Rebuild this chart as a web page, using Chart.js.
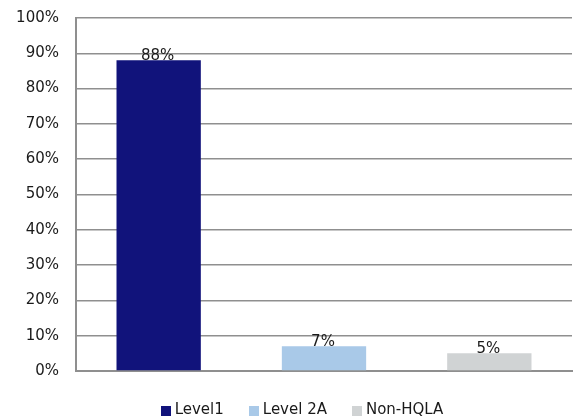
<!DOCTYPE html>
<html>
<head>
<meta charset="utf-8">
<script src="https://cdn.jsdelivr.net/npm/chart.js@4/dist/chart.umd.min.js"></script>
<style>
  html, body { margin: 0; padding: 0; background: #ffffff; font-family: "DejaVu Sans"; }
  #wrap { width: 577px; height: 419px; position: relative; }
</style>
</head>
<body>
<div id="wrap"><canvas id="chart" width="577" height="419"></canvas></div>
<script>
// HQLA composition by asset level
const categories = ['Level1', 'Level 2A', 'Non-HQLA'];
const shares = [88, 7, 5];
const barColors = ['#11137B', '#A9C9E8', '#D0D3D4'];
const yTickValues = [0, 10, 20, 30, 40, 50, 60, 70, 80, 90, 100];

const FONT = '"DejaVu Sans"';
const GRID = '#8f8f8f';
const TEXT = '#1a1a1a';
const FONT_SIZE = 15;

// value labels above each bar
const valueLabels = {
  id: 'valueLabels',
  afterDatasetsDraw(chart) {
    const ctx = chart.ctx;
    const meta = chart.getDatasetMeta(0);
    ctx.save();
    ctx.font = FONT_SIZE + 'px ' + FONT;
    ctx.fillStyle = TEXT;
    ctx.textAlign = 'center';
    ctx.textBaseline = 'alphabetic';
    meta.data.forEach((bar, i) => {
      ctx.fillText(shares[i] + '%', bar.x - 1, bar.y - 0.5);
    });
    ctx.restore();
  }
};

// compact legend row under the plot: square swatch + category name
const bottomLegend = {
  id: 'bottomLegend',
  afterDraw(chart) {
    const ctx = chart.ctx;
    const box = 10, gap = 4, itemGap = 25, cy = 410, centerX = 302;
    ctx.save();
    ctx.font = FONT_SIZE + 'px ' + FONT;
    ctx.textBaseline = 'middle';
    ctx.textAlign = 'left';
    const widths = categories.map(c => box + gap + ctx.measureText(c).width);
    const total = widths.reduce((a, b) => a + b, 0) + itemGap * (categories.length - 1);
    let x = centerX - total / 2;
    categories.forEach((c, i) => {
      ctx.fillStyle = barColors[i];
      ctx.fillRect(Math.round(x), cy - box / 2 + 1, box, box);
      ctx.fillStyle = TEXT;
      ctx.fillText(c, x + box + gap, cy);
      x += widths[i] + itemGap;
    });
    ctx.restore();
  }
};

function draw() {
  Chart.defaults.font.family = FONT;
  new Chart(document.getElementById('chart'), {
    type: 'bar',
    data: {
      labels: categories,
      datasets: [{
        data: shares,
        backgroundColor: barColors,
        borderWidth: 0,
        barPercentage: 0.51,
        categoryPercentage: 1.0
      }]
    },
    options: {
      responsive: false,
      animation: false,
      devicePixelRatio: 1,
      layout: { padding: { top: 18, right: 5, left: 0, bottom: 48 } },
      scales: {
        x: {
          grid: { display: false, drawTicks: false },
          border: { display: true, color: GRID, width: 2 },
          ticks: { display: false },
          afterFit(scale) { scale.height = 0; }
        },
        y: {
          min: 0,
          max: 100,
          afterBuildTicks(scale) { scale.ticks = yTickValues.map(v => ({ value: v })); },
          afterFit(scale) { scale.width = 76; },
          grid: { color: GRID, lineWidth: 1.5, drawTicks: true, tickLength: 17, tickColor: 'rgba(0,0,0,0)' },
          border: { display: true, color: GRID, width: 2 },
          ticks: {
            padding: 0,
            color: TEXT,
            font: { family: FONT, size: FONT_SIZE },
            callback: v => v + '%'
          }
        }
      },
      plugins: {
        tooltip: { enabled: false },
        legend: { display: false }
      }
    },
    plugins: [valueLabels, bottomLegend]
  });
}

if (document.fonts && document.fonts.load) {
  document.fonts.load(FONT_SIZE + 'px ' + FONT).then(draw, draw);
} else {
  draw();
}
</script>
</body>
</html>
